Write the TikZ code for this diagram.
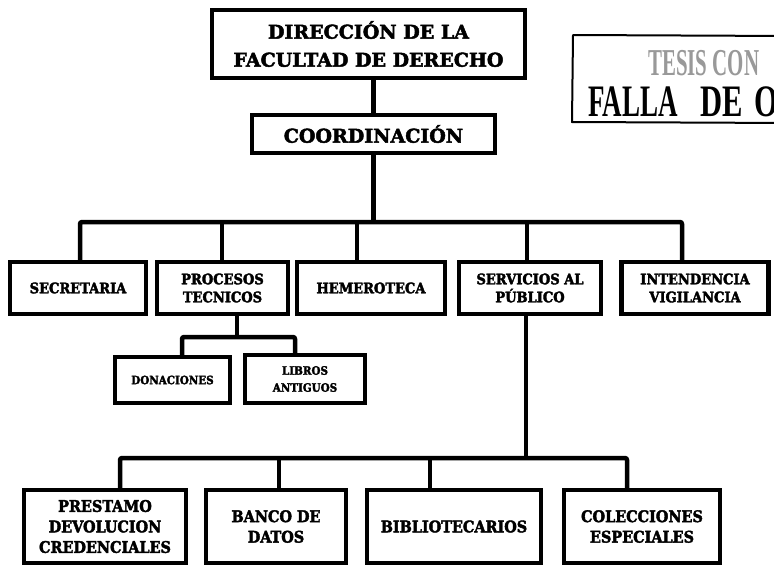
\documentclass[tikz,border=0pt]{standalone}
\usepackage{fontspec}
\usepackage{graphicx}
\setmainfont{DejaVu Serif}[BoldFeatures={FakeBold=2.5}]
\newfontfamily\cond{DejaVu Serif Condensed}[BoldFeatures={FakeBold=2.5}]
\newfontfamily\stampfont{Liberation Serif}
\tikzset{
  unit/.style={draw, line width=4.5pt, inner sep=0pt, align=center, font=\bfseries},
  big/.style={unit, font=\bfseries\fontsize{19}{28}\selectfont},
  mid/.style={unit, minimum height=52pt, font=\cond\bfseries\fontsize{14.5}{18}\selectfont},
  sml/.style={unit, font=\cond\bfseries\fontsize{11.5}{17}\selectfont},
  low/.style={unit, minimum height=73pt, font=\cond\bfseries\fontsize{16}{20.5}\selectfont},
  wire/.style={line width=4.5pt, line join=round, rounded corners=2pt},
  stamptext/.style={anchor=base west, inner sep=0pt}
}
\begin{document}
\begin{tikzpicture}[x=1pt,y=-1pt]
\useasboundingbox (0,0) rectangle (774,568);
\clip (0,0) rectangle (774,568);
\fill[white] (0,0) rectangle (774,568);

% stamp
\draw[line width=2pt, line join=round] (790,36) -- (573,35) -- (572,122) -- (790,123);
\node[stamptext, text=black!40] at (648,75)
  {\scalebox{0.55}[1]{\stampfont\bfseries\fontsize{38}{38}\selectfont TESIS\ CON}};
\node[stamptext] at (588,116)
  {\scalebox{0.6}[1]{\stampfont\bfseries\fontsize{45}{45}\selectfont FALLA}};
\node[stamptext] at (700,116)
  {\scalebox{0.68}[1]{\stampfont\bfseries\fontsize{45}{45}\selectfont DE}};
\node[stamptext] at (754,116)
  {\scalebox{0.68}[1]{\stampfont\bfseries\fontsize{45}{45}\selectfont ORIGEN}};

% boxes
\node[big, minimum width=313pt, minimum height=68pt] (dir) at (368.5,44) {DIRECCIÓN DE LA\\FACULTAD DE DERECHO};
\node[big, minimum width=243pt, minimum height=38pt] (coo) at (373.5,134) {COORDINACIÓN};

\node[mid, minimum width=136pt] (sec) at (78,288) {SECRETARIA};
\node[mid, minimum width=131pt] (pro) at (222.5,288) {PROCESOS\\TECNICOS};
\node[mid, minimum width=148pt] (hem) at (371,288) {HEMEROTECA};
\node[mid, minimum width=142pt] (ser) at (530,288) {SERVICIOS AL\\PÚBLICO};
\node[mid, minimum width=147pt] (int) at (695,288) {INTENDENCIA\\VIGILANCIA};

\node[sml, minimum width=115pt, minimum height=46pt] (don) at (172.5,380) {DONACIONES};
\node[sml, minimum width=120pt, minimum height=48pt] (lib) at (305,379) {LIBROS\\ANTIGUOS};

\node[low, minimum width=162pt] (pre) at (105,526.5) {PRESTAMO\\DEVOLUCION\\CREDENCIALES};
\node[low, minimum width=140pt] (ban) at (276,526.5) {BANCO DE\\DATOS};
\node[low, minimum width=174pt] (bib) at (454,526.5) {BIBLIOTECARIOS};
\node[low, minimum width=156pt] (col) at (642,526.5) {COLECCIONES\\ESPECIALES};

% connectors
\coordinate (b0) at (373.5,222);
\coordinate (b1) at (80,222);
\coordinate (b2) at (222,222);
\coordinate (b3) at (357,222);
\coordinate (b4) at (527,222);
\coordinate (b5) at (682,222);
\draw[wire] (coo.north) -- (coo.north |- dir.south);
\draw[wire] (coo) -- (b0);
\draw[wire] (b1 |- sec.north) -- (b1) -- (b5) -- (b5 |- int.north);
\draw[wire] (b2) -- (b2 |- pro.north);
\draw[wire] (b3) -- (b3 |- hem.north);
\draw[wire] (b4) -- (b4 |- ser.north);

\coordinate (p0) at (237,337);
\coordinate (p1) at (182,337);
\coordinate (p2) at (295,337);
\draw[wire] (p0 |- pro.south) -- (p0);
\draw[wire] (p1 |- don.north) -- (p1) -- (p2) -- (p2 |- lib.north);

\coordinate (s0) at (526,458);
\coordinate (s1) at (120,458);
\coordinate (s2) at (279,458);
\coordinate (s3) at (430,458);
\coordinate (s4) at (627,458);
\draw[wire] (s0 |- ser.south) -- (s0);
\draw[wire] (s1 |- pre.north) -- (s1) -- (s4) -- (s4 |- col.north);
\draw[wire] (s2) -- (s2 |- ban.north);
\draw[wire] (s3) -- (s3 |- bib.north);
\end{tikzpicture}
\end{document}
